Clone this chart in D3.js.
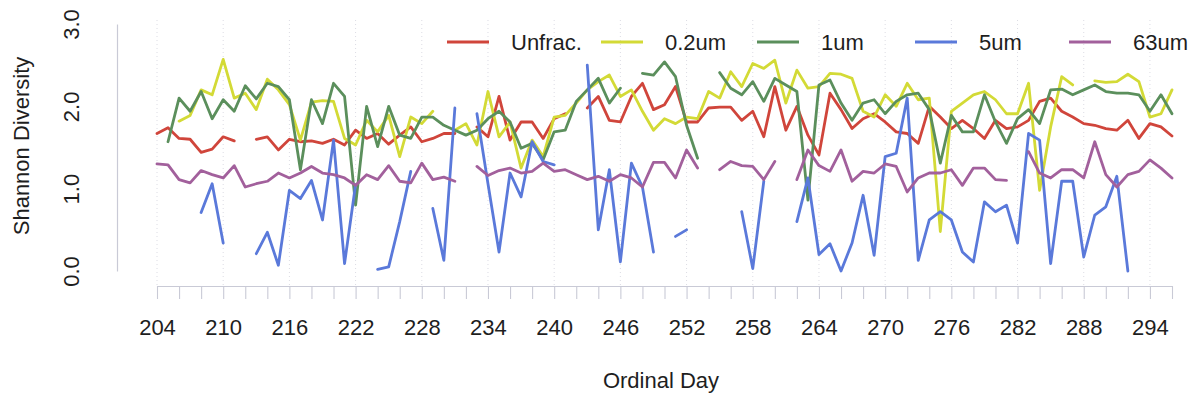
<!DOCTYPE html>
<html>
<head>
<meta charset="utf-8">
<script src="https://cdn.jsdelivr.net/npm/d3@7"></script>
<style>
  html, body { margin: 0; padding: 0; background: #fff; }
  svg { display: block; font-family: "Liberation Sans", Arial, sans-serif; }
</style>
</head>
<body>
<svg id="chart" width="1193" height="398"></svg>
<script>
// Sampling days (ordinal day of year)
const firstDay = 204;
const lastDay = 296;
const days = d3.range(firstDay, lastDay + 1);

// Tick labels
const xTickLabels = [204, 210, 216, 222, 228, 234, 240, 246, 252, 258, 264, 270, 276, 282, 288, 294];
const yTickLabels = [0, 1, 2, 3];

// Series names and colours
const seriesNames = ["Unfrac.", "0.2um", "1um", "5um", "63um"];
const seriesColors = ["#d0453b", "#d3da36", "#5b8f5c", "#5a79da", "#a2609c"];

// Shannon diversity, one value per day (null = no sample)
const unfrac = [
  1.67, 1.74, 1.61, 1.60, 1.44, 1.48, 1.63, 1.58, null, 1.60,
  1.63, 1.47, 1.60, 1.57, 1.58, 1.55, 1.60, 1.53, 1.71, 1.61,
  1.67, 1.54, 1.65, 1.75, 1.57, 1.61, 1.67, 1.67, null, 1.75,
  1.63, 2.12, 1.59, 1.81, 1.81, 1.61, 1.85, 1.91, null, 1.98,
  2.12, 1.83, 1.81, 2.12, 2.28, 1.96, 2.02, 2.24, 1.81, 1.81,
  1.98, 1.99, 1.99, 1.83, 1.94, 1.63, 2.24, 1.71, 2.00, 1.65,
  1.41, 2.16, 1.96, 1.73, 1.85, 1.91, 1.81, 1.69, 1.67, 1.55,
  2.00, 1.87, 1.73, 1.83, 1.73, 1.61, 1.83, 1.73, 1.75, 1.83,
  2.06, 2.10, 1.94, 1.87, 1.79, 1.77, 1.73, 1.71, 1.83, 1.61,
  1.79, 1.75, 1.64
];
const um02 = [
  null, null, 1.82, 1.89, 2.20, 2.14, 2.57, 2.10, 2.16, 1.96,
  2.33, 2.20, 2.02, 1.59, 2.05, 2.07, 2.06, 1.61, 1.53, 1.83,
  1.69, 1.89, 1.39, 1.87, 1.79, 1.94, null, 1.71, 1.79, 1.53,
  2.18, 1.63, 1.81, 1.25, 1.59, 1.39, 1.87, 1.89, 2.04, 2.20,
  2.30, 2.38, 2.12, 2.20, 1.94, 1.71, 1.85, 1.79, 1.87, 1.85,
  2.18, 2.10, 2.42, 2.24, 2.52, 2.46, 2.56, 2.04, 2.44, 2.22,
  2.24, 2.40, 2.39, 2.34, 1.94, 1.87, 2.14, 2.00, 2.28, 2.08,
  2.10, 0.48, 1.94, 2.04, 2.14, 2.18, 2.08, 1.91, 1.91, 2.28,
  0.98, 1.75, 2.36, 2.26, null, 2.31, 2.29, 2.30, 2.39, 2.30,
  1.87, 1.91, 2.20
];
const um1 = [
  null, 1.57, 2.10, 1.94, 2.18, 1.85, 2.08, 1.94, 2.25, 2.09,
  2.28, 2.24, 2.08, 1.23, 2.08, 1.79, 2.28, 2.12, 0.80, 2.00,
  1.51, 2.00, 1.65, 1.61, 1.87, 1.87, 1.77, 1.71, 1.65, 1.71,
  1.85, 1.94, 1.81, 1.49, 1.55, 1.35, 1.69, 1.71, 2.06, 2.20,
  2.34, 2.04, 2.22, null, 2.40, 2.38, 2.54, 2.36, 1.77, 1.37,
  null, 2.41, 2.22, 2.14, 2.30, 2.06, 2.34, 2.26, 2.18, 0.86,
  2.26, 2.32, 2.04, 1.83, 2.04, 2.08, 1.91, 2.06, 2.14, 2.16,
  1.96, 1.31, 1.89, 1.69, 1.69, 2.14, 1.81, 1.55, 1.85, 1.96,
  1.79, 2.20, 2.21, 2.14, 2.20, 2.26, 2.18, 2.16, 2.16, 2.14,
  1.94, 2.14, 1.91
];
const um5 = [
  null, null, null, null, 0.71, 1.06, 0.34, null, null, 0.21,
  0.47, 0.07, 0.98, 0.88, 1.10, 0.62, 1.59, 0.09, 1.05, null,
  0.02, 0.05, 0.60, 1.21, null, 0.76, 0.13, 1.98, null, 1.91,
  1.06, 0.23, 1.19, 0.90, 1.57, 1.33, 1.29, null, null, 2.50,
  0.50, 1.23, 0.11, 1.31, 1.02, 0.23, null, 0.42, 0.50, null,
  null, null, null, 0.72, 0.03, 1.09, null, null, 0.60, 1.13,
  0.20, 0.33, 0.00, 0.34, 0.92, 0.19, 1.39, 1.43, 2.10, 0.13,
  0.62, 0.72, 0.62, 0.23, 0.11, 0.84, 0.72, 0.80, 0.34, 1.67,
  1.59, 0.09, 1.09, 1.09, 0.17, 0.68, 0.78, 1.15, 0.00, null,
  null, null, null
];
const um63 = [
  1.30, 1.29, 1.11, 1.07, 1.22, 1.17, 1.13, 1.28, 1.02, 1.06,
  1.09, 1.19, 1.13, 1.19, 1.27, 1.19, 1.17, 1.13, 1.04, 1.17,
  1.11, 1.28, 1.09, 1.07, 1.31, 1.11, 1.14, 1.09, null, 1.27,
  1.16, 1.22, 1.25, 1.19, 1.21, 1.31, 1.21, 1.23, 1.17, 1.11,
  1.15, 1.09, 1.17, 1.13, 1.02, 1.32, 1.32, 1.13, 1.47, 1.25,
  null, 1.23, 1.33, 1.28, 1.27, 1.11, 1.33, null, 1.11, 1.47,
  1.28, 1.21, 1.47, 1.09, 1.21, 1.19, 1.30, 1.27, 0.96, 1.13,
  1.19, 1.19, 1.23, 1.04, 1.25, 1.25, 1.11, 1.10, null, 1.45,
  1.19, 1.13, 1.23, 1.23, 1.13, 1.57, 1.17, 1.02, 1.17, 1.21,
  1.35, 1.25, 1.13
];

const seriesValues = [unfrac, um02, um1, um5, um63];

const svg = d3.select("#chart");
const textColor = "#1e1e1e";
const axisColor = "#c9cad6";

const x = d3.scaleLinear().domain([firstDay, lastDay]).range([157, 1172]);
const y = d3.scaleLinear().domain([0, 3]).range([271, 24]);

// faint dotted guides at the labelled days
svg.append("g")
  .selectAll("line")
  .data(xTickLabels)
  .join("line")
  .attr("x1", d => x(d)).attr("x2", d => x(d))
  .attr("y1", 20).attr("y2", 286)
  .attr("stroke", "#dcdce4")
  .attr("stroke-width", 1)
  .attr("stroke-dasharray", "1,3");

// x axis: tick every two days, label every six
const xAxis = d3.axisBottom(x)
  .tickValues(d3.range(firstDay, lastDay + 1, 2))
  .tickSizeInner(13)
  .tickSizeOuter(0)
  .tickPadding(20)
  .tickFormat(d => xTickLabels.includes(d) ? d : "");

const gx = svg.append("g")
  .attr("transform", "translate(0,286)")
  .call(xAxis);
gx.select(".domain").attr("stroke", axisColor).attr("stroke-width", 1.2);
gx.selectAll(".tick line").attr("stroke", axisColor).attr("stroke-width", 1.1);
gx.selectAll(".tick text")
  .attr("fill", textColor)
  .attr("font-size", 22)
  .attr("font-family", "Liberation Sans, Arial, sans-serif");

// y axis: faint line with rotated labels
const yAxis = d3.axisLeft(y)
  .tickValues(yTickLabels)
  .tickSize(0)
  .tickPadding(0)
  .tickFormat(d3.format(".1f"));

const gy = svg.append("g")
  .attr("transform", "translate(117,0)")
  .call(yAxis);
gy.select(".domain").attr("stroke", axisColor).attr("stroke-width", 1.2);
gy.selectAll(".tick text")
  .attr("fill", textColor)
  .attr("font-size", 22)
  .attr("font-family", "Liberation Sans, Arial, sans-serif")
  .attr("text-anchor", "middle")
  .attr("dy", 0)
  .attr("x", 0)
  .attr("transform", "translate(-38,0) rotate(-90)");

// axis titles
svg.append("text")
  .attr("x", 661).attr("y", 388)
  .attr("text-anchor", "middle")
  .attr("font-size", 22)
  .attr("fill", textColor)
  .text("Ordinal Day");

svg.append("text")
  .attr("transform", "translate(29,146) rotate(-90)")
  .attr("text-anchor", "middle")
  .attr("font-size", 22)
  .attr("fill", textColor)
  .text("Shannon Diversity");

// series lines (gaps where a day has no sample)
const line = d3.line()
  .defined(d => d.v !== null)
  .x(d => x(d.day))
  .y(d => y(d.v));

svg.append("g")
  .selectAll("path")
  .data(seriesValues.map((vals, i) => ({
    color: seriesColors[i],
    points: days.map((day, j) => ({ day, v: vals[j] }))
  })))
  .join("path")
  .attr("fill", "none")
  .attr("stroke", d => d.color)
  .attr("stroke-width", 2.8)
  .attr("stroke-linejoin", "round")
  .attr("stroke-linecap", "round")
  .attr("d", d => line(d.points));

// legend
const legendSlots = [447, 601, 757, 915, 1069];
const legend = svg.append("g")
  .selectAll("g")
  .data(seriesNames)
  .join("g")
  .attr("transform", (d, i) => `translate(${legendSlots[i]},42)`);
legend.append("line")
  .attr("x1", 0).attr("x2", 42)
  .attr("y1", 0).attr("y2", 0)
  .attr("stroke", (d, i) => seriesColors[i])
  .attr("stroke-width", 3);
legend.append("text")
  .attr("x", 64).attr("y", 8)
  .attr("font-size", 22)
  .attr("fill", textColor)
  .text(d => d);
</script>
</body>
</html>
